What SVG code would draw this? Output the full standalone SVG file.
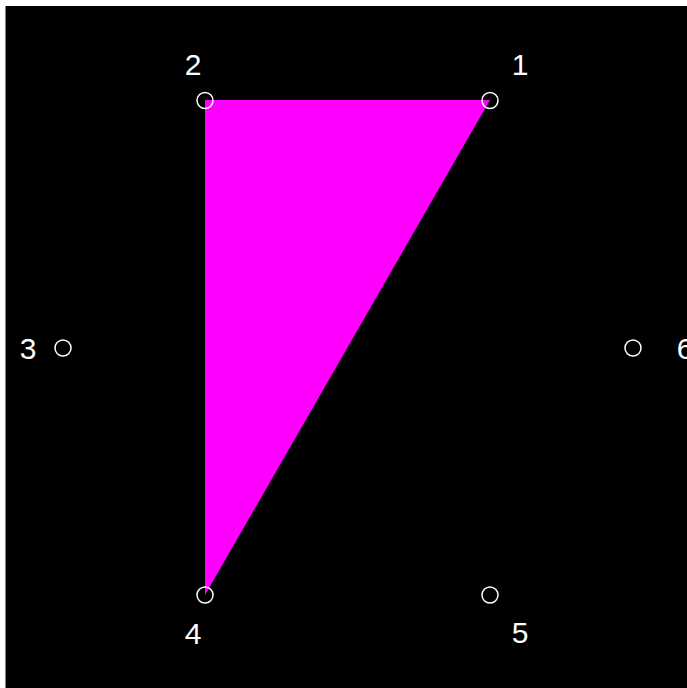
<svg xmlns="http://www.w3.org/2000/svg" width="687" height="688" viewBox="0 0 687 688">
<style>
.pt{fill:none;stroke:#fff;stroke-width:1.5}
.lb{fill:#fff;font-family:"Liberation Sans",Arial,sans-serif;font-size:30px;text-anchor:middle}
</style>
<rect x="0" y="0" width="687" height="688" fill="#fff"/>
<rect x="5" y="6" width="1" height="682" fill="#808080"/>
<rect x="6" y="6" width="681" height="682" fill="#000"/>
<polygon points="205,100 490,100 205,595" fill="#ff00ff"/>
<g id="n1"><circle class="pt" cx="490" cy="100.5" r="8"/><text class="lb" x="520" y="75">1</text></g>
<g id="n2"><circle class="pt" cx="205" cy="100.5" r="8"/><text class="lb" x="193" y="75">2</text></g>
<g id="n3"><circle class="pt" cx="63" cy="348" r="8"/><text class="lb" x="28" y="359">3</text></g>
<g id="n4"><circle class="pt" cx="205" cy="595" r="8"/><text class="lb" x="193" y="644">4</text></g>
<g id="n5"><circle class="pt" cx="490" cy="595" r="8"/><text class="lb" x="520" y="643">5</text></g>
<g id="n6"><circle class="pt" cx="633" cy="348" r="8"/><text class="lb" x="685" y="359">6</text></g>
<g id="connectors"></g>
</svg>
